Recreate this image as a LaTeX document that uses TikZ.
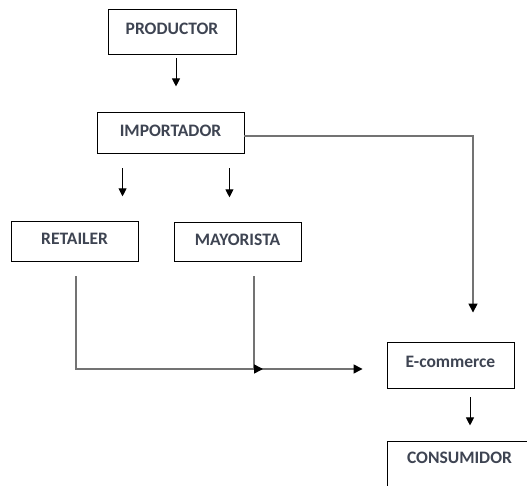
\documentclass[tikz,border=0pt]{standalone}
\usepackage{fontspec}
\setmainfont{Carlito}
\usepackage{tikz}
\usetikzlibrary{positioning, arrows.meta}
\definecolor{txtgray}{RGB}{62,68,82}
\definecolor{linegray}{RGB}{115,115,115}
\tikzstyle{box} = [rectangle, draw=black, line width=0.9pt, fill=white,
text=txtgray, font=\fontsize{17.5}{20}\selectfont\bfseries, minimum width=127pt,
minimum height=40pt, text depth=6pt, text centered]
\tikzstyle{arrow} = [line width=0.9pt, -{Triangle[width=8pt,length=8pt]}]
\tikzstyle{conn} = [draw=linegray, line width=1.5pt]
\tikzstyle{tip} = [-{Triangle[width=9pt,length=9pt,black]}]

\begin{document}
\begin{tikzpicture}[x=1pt, y=1pt]
\useasboundingbox (0,0) rectangle (527,485);
\clip (0,0) rectangle (527,485);

\node(productor)[box, minimum width=128pt, minimum height=45pt] at (172,453.5){PRODUCTOR};
\node(importador)[box, minimum width=147pt, minimum height=41pt, below=58pt of productor, xshift=-1.5pt]{IMPORTADOR};
\node(mayorista)[box, minimum height=39pt, below=68pt of importador, xshift=67pt]{MAYORISTA};
\node(retailer)[box, left=35pt of mayorista, yshift=0.5pt]{RETAILER};
\node(ecommerce)[box, minimum height=46pt] at (450.5,120){E-commerce};
\node(consumidor)[box, minimum width=145pt, minimum height=48pt, text depth=16pt, below=53pt of ecommerce, xshift=9pt]{CONSUMIDOR};
\coordinate(merge) at (263,116);

\draw[arrow, shorten <=4pt, shorten >=26pt] ([xshift=4pt]productor.south) -- ([xshift=5.5pt]importador.north);
\draw[arrow, shorten <=14pt, shorten >=25pt] ([xshift=26pt]importador.south west) -- ([xshift=26pt]importador.south west |- retailer.north);
\draw[arrow, shorten <=14pt, shorten >=25pt] ([xshift=-15pt]importador.south east) -- ([xshift=-15pt]importador.south east |- mayorista.north);
\draw[conn, tip, shorten >=29pt] ([yshift=-2.5pt]importador.east) -| ([xshift=22.5pt]ecommerce.north);
\draw[conn, tip, shorten <=14pt, shorten >=24pt] ([xshift=1.5pt]retailer.south) |- ([yshift=-4pt]ecommerce.west);
\draw[conn, tip, shorten <=14pt] ([xshift=16.5pt]mayorista.south) |- (merge);
\draw[arrow, shorten <=9pt, shorten >=16pt] ([xshift=19.5pt]ecommerce.south) -- ([xshift=10.5pt]consumidor.north);

\end{tikzpicture}
\end{document}
